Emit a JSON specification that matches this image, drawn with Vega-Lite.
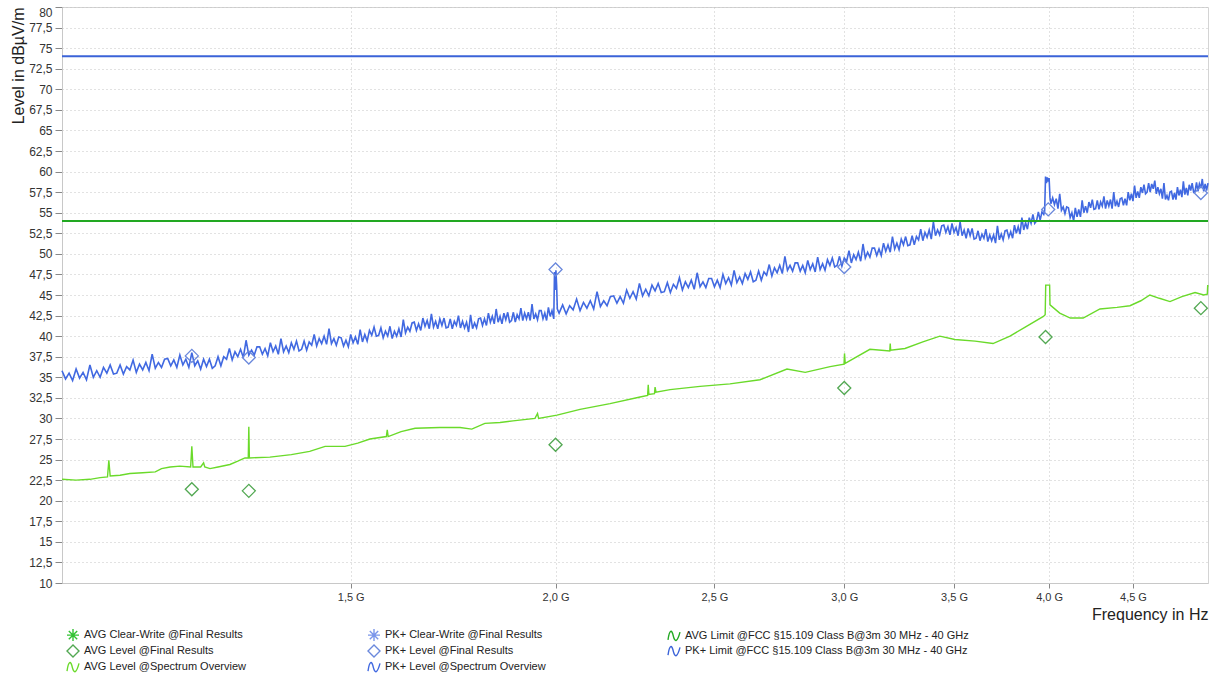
{
  "$schema": "https://vega.github.io/schema/vega-lite/v6.json",
  "width": 1146,
  "height": 576,
  "autosize": "none",
  "padding": {"left": 62, "top": 7, "right": 15, "bottom": 94},
  "background": "white",
  "config": {
    "view": {"stroke": "#d4d4d4"},
    "font": "Liberation Sans",
    "axis": {"labelFont": "Liberation Sans", "titleFont": "Liberation Sans", "titleFontWeight": "normal", "labelColor": "#333", "titleColor": "#222", "gridColor": "#c4c4c4", "gridDash": [1, 3], "domainColor": "#c8c8c8", "tickColor": "#888"}
  },
  "datasets": {
    "pk": [
      {"f":1.000,"v":35.8,"s":"pk"},{"f":1.005,"v":34.8,"s":"pk"},{"f":1.010,"v":35.5,"s":"pk"},{"f":1.015,"v":34.6,"s":"pk"},{"f":1.020,"v":36.0,"s":"pk"},{"f":1.025,"v":34.9,"s":"pk"},{"f":1.030,"v":35.6,"s":"pk"},{"f":1.035,"v":34.7,"s":"pk"},{"f":1.040,"v":36.5,"s":"pk"},{"f":1.045,"v":35.0,"s":"pk"},
      {"f":1.050,"v":35.8,"s":"pk"},{"f":1.055,"v":35.0,"s":"pk"},{"f":1.060,"v":36.2,"s":"pk"},{"f":1.065,"v":35.5,"s":"pk"},{"f":1.070,"v":36.5,"s":"pk"},{"f":1.075,"v":35.4,"s":"pk"},{"f":1.080,"v":35.5,"s":"pk"},{"f":1.085,"v":36.5,"s":"pk"},{"f":1.090,"v":35.4,"s":"pk"},{"f":1.095,"v":36.3,"s":"pk"},
      {"f":1.100,"v":35.9,"s":"pk"},{"f":1.105,"v":37.1,"s":"pk"},{"f":1.110,"v":35.6,"s":"pk"},{"f":1.115,"v":36.6,"s":"pk"},{"f":1.120,"v":35.9,"s":"pk"},{"f":1.125,"v":36.8,"s":"pk"},{"f":1.130,"v":35.8,"s":"pk"},{"f":1.135,"v":37.8,"s":"pk"},{"f":1.140,"v":36.1,"s":"pk"},{"f":1.145,"v":36.8,"s":"pk"},
      {"f":1.150,"v":36.2,"s":"pk"},{"f":1.155,"v":37.2,"s":"pk"},{"f":1.160,"v":37.3,"s":"pk"},{"f":1.165,"v":36.4,"s":"pk"},{"f":1.170,"v":37.1,"s":"pk"},{"f":1.175,"v":36.2,"s":"pk"},{"f":1.180,"v":37.7,"s":"pk"},{"f":1.185,"v":36.5,"s":"pk"},{"f":1.190,"v":37.2,"s":"pk"},{"f":1.195,"v":36.2,"s":"pk"},
      {"f":1.200,"v":38.0,"s":"pk"},{"f":1.205,"v":36.4,"s":"pk"},{"f":1.210,"v":37.0,"s":"pk"},{"f":1.215,"v":36.0,"s":"pk"},{"f":1.220,"v":37.2,"s":"pk"},{"f":1.225,"v":36.3,"s":"pk"},{"f":1.230,"v":37.2,"s":"pk"},{"f":1.235,"v":36.1,"s":"pk"},{"f":1.240,"v":36.4,"s":"pk"},{"f":1.245,"v":37.5,"s":"pk"},
      {"f":1.250,"v":36.4,"s":"pk"},{"f":1.255,"v":37.5,"s":"pk"},{"f":1.260,"v":37.2,"s":"pk"},{"f":1.265,"v":38.5,"s":"pk"},{"f":1.270,"v":37.1,"s":"pk"},{"f":1.275,"v":38.1,"s":"pk"},{"f":1.280,"v":37.5,"s":"pk"},{"f":1.285,"v":38.4,"s":"pk"},{"f":1.290,"v":37.4,"s":"pk"},{"f":1.295,"v":39.5,"s":"pk"},
      {"f":1.300,"v":37.7,"s":"pk"},{"f":1.305,"v":38.3,"s":"pk"},{"f":1.310,"v":37.7,"s":"pk"},{"f":1.315,"v":38.7,"s":"pk"},{"f":1.320,"v":38.7,"s":"pk"},{"f":1.325,"v":37.8,"s":"pk"},{"f":1.330,"v":38.5,"s":"pk"},{"f":1.335,"v":37.6,"s":"pk"},{"f":1.340,"v":39.2,"s":"pk"},{"f":1.345,"v":38.1,"s":"pk"},
      {"f":1.350,"v":38.8,"s":"pk"},{"f":1.355,"v":37.8,"s":"pk"},{"f":1.360,"v":39.7,"s":"pk"},{"f":1.365,"v":38.1,"s":"pk"},{"f":1.370,"v":38.8,"s":"pk"},{"f":1.375,"v":38.0,"s":"pk"},{"f":1.380,"v":39.2,"s":"pk"},{"f":1.385,"v":38.4,"s":"pk"},{"f":1.390,"v":39.4,"s":"pk"},{"f":1.395,"v":38.2,"s":"pk"},
      {"f":1.400,"v":38.4,"s":"pk"},{"f":1.405,"v":39.4,"s":"pk"},{"f":1.410,"v":38.3,"s":"pk"},{"f":1.415,"v":39.3,"s":"pk"},{"f":1.420,"v":38.9,"s":"pk"},{"f":1.425,"v":40.2,"s":"pk"},{"f":1.430,"v":38.8,"s":"pk"},{"f":1.435,"v":39.7,"s":"pk"},{"f":1.440,"v":39.1,"s":"pk"},{"f":1.445,"v":40.0,"s":"pk"},
      {"f":1.450,"v":39.0,"s":"pk"},{"f":1.455,"v":40.9,"s":"pk"},{"f":1.460,"v":39.1,"s":"pk"},{"f":1.465,"v":39.7,"s":"pk"},{"f":1.470,"v":38.9,"s":"pk"},{"f":1.475,"v":39.9,"s":"pk"},{"f":1.480,"v":39.8,"s":"pk"},{"f":1.485,"v":38.8,"s":"pk"},{"f":1.490,"v":39.5,"s":"pk"},{"f":1.495,"v":38.7,"s":"pk"},
      {"f":1.500,"v":40.2,"s":"pk"},{"f":1.505,"v":39.2,"s":"pk"},{"f":1.510,"v":39.9,"s":"pk"},{"f":1.515,"v":39.0,"s":"pk"},{"f":1.520,"v":40.8,"s":"pk"},{"f":1.525,"v":39.3,"s":"pk"},{"f":1.530,"v":40.2,"s":"pk"},{"f":1.535,"v":39.4,"s":"pk"},{"f":1.540,"v":40.7,"s":"pk"},{"f":1.545,"v":40.1,"s":"pk"},
      {"f":1.550,"v":41.1,"s":"pk"},{"f":1.555,"v":40.0,"s":"pk"},{"f":1.560,"v":40.1,"s":"pk"},{"f":1.565,"v":41.0,"s":"pk"},{"f":1.570,"v":39.8,"s":"pk"},{"f":1.575,"v":40.6,"s":"pk"},{"f":1.580,"v":40.0,"s":"pk"},{"f":1.585,"v":41.2,"s":"pk"},{"f":1.590,"v":39.7,"s":"pk"},{"f":1.595,"v":40.6,"s":"pk"},
      {"f":1.600,"v":40.0,"s":"pk"},{"f":1.605,"v":40.9,"s":"pk"},{"f":1.610,"v":39.9,"s":"pk"},{"f":1.615,"v":42.0,"s":"pk"},{"f":1.620,"v":40.4,"s":"pk"},{"f":1.625,"v":41.1,"s":"pk"},{"f":1.630,"v":40.6,"s":"pk"},{"f":1.635,"v":41.6,"s":"pk"},{"f":1.640,"v":41.7,"s":"pk"},{"f":1.645,"v":40.7,"s":"pk"},
      {"f":1.650,"v":41.5,"s":"pk"},{"f":1.655,"v":40.7,"s":"pk"},{"f":1.660,"v":42.2,"s":"pk"},{"f":1.665,"v":41.2,"s":"pk"},{"f":1.670,"v":41.9,"s":"pk"},{"f":1.675,"v":40.9,"s":"pk"},{"f":1.680,"v":42.7,"s":"pk"},{"f":1.685,"v":41.1,"s":"pk"},{"f":1.690,"v":41.8,"s":"pk"},{"f":1.695,"v":40.9,"s":"pk"},
      {"f":1.700,"v":42.1,"s":"pk"},{"f":1.705,"v":41.3,"s":"pk"},{"f":1.710,"v":42.2,"s":"pk"},{"f":1.715,"v":41.0,"s":"pk"},{"f":1.720,"v":41.1,"s":"pk"},{"f":1.725,"v":42.1,"s":"pk"},{"f":1.730,"v":40.9,"s":"pk"},{"f":1.735,"v":41.8,"s":"pk"},{"f":1.740,"v":41.3,"s":"pk"},{"f":1.745,"v":42.5,"s":"pk"},
      {"f":1.750,"v":41.0,"s":"pk"},{"f":1.755,"v":41.8,"s":"pk"},{"f":1.760,"v":41.0,"s":"pk"},{"f":1.765,"v":41.7,"s":"pk"},{"f":1.770,"v":40.5,"s":"pk"},{"f":1.775,"v":42.6,"s":"pk"},{"f":1.780,"v":40.9,"s":"pk"},{"f":1.785,"v":41.6,"s":"pk"},{"f":1.790,"v":41.0,"s":"pk"},{"f":1.795,"v":42.1,"s":"pk"},
      {"f":1.800,"v":42.2,"s":"pk"},{"f":1.805,"v":41.3,"s":"pk"},{"f":1.810,"v":42.1,"s":"pk"},{"f":1.815,"v":41.3,"s":"pk"},{"f":1.820,"v":42.8,"s":"pk"},{"f":1.825,"v":41.7,"s":"pk"},{"f":1.830,"v":42.4,"s":"pk"},{"f":1.835,"v":41.5,"s":"pk"},{"f":1.840,"v":43.3,"s":"pk"},{"f":1.845,"v":41.7,"s":"pk"},
      {"f":1.850,"v":42.4,"s":"pk"},{"f":1.855,"v":41.5,"s":"pk"},{"f":1.860,"v":42.8,"s":"pk"},{"f":1.865,"v":42.0,"s":"pk"},{"f":1.870,"v":42.9,"s":"pk"},{"f":1.875,"v":41.7,"s":"pk"},{"f":1.880,"v":41.9,"s":"pk"},{"f":1.885,"v":42.9,"s":"pk"},{"f":1.890,"v":41.7,"s":"pk"},{"f":1.895,"v":42.6,"s":"pk"},
      {"f":1.900,"v":42.1,"s":"pk"},{"f":1.905,"v":43.4,"s":"pk"},{"f":1.910,"v":41.9,"s":"pk"},{"f":1.915,"v":42.8,"s":"pk"},{"f":1.920,"v":42.1,"s":"pk"},{"f":1.925,"v":42.9,"s":"pk"},{"f":1.930,"v":41.9,"s":"pk"},{"f":1.935,"v":43.9,"s":"pk"},{"f":1.940,"v":42.1,"s":"pk"},{"f":1.945,"v":42.7,"s":"pk"},
      {"f":1.950,"v":42.0,"s":"pk"},{"f":1.955,"v":43.1,"s":"pk"},{"f":1.960,"v":43.1,"s":"pk"},{"f":1.965,"v":42.1,"s":"pk"},{"f":1.970,"v":42.8,"s":"pk"},{"f":1.975,"v":41.9,"s":"pk"},{"f":1.980,"v":43.5,"s":"pk"},{"f":1.985,"v":42.4,"s":"pk"},{"f":1.990,"v":43.1,"s":"pk"},{"f":1.995,"v":42.1,"s":"pk"},
      {"f":1.997,"v":47.8,"s":"pk"},{"f":1.999,"v":45.6,"s":"pk"},{"f":2.001,"v":48.0,"s":"pk"},{"f":2.003,"v":46.2,"s":"pk"},{"f":2.005,"v":43.3,"s":"pk"},
      {"f":2.01,"v":42.8,"s":"pk"},{"f":2.02,"v":43.8,"s":"pk"},{"f":2.03,"v":42.7,"s":"pk"},{"f":2.04,"v":43.7,"s":"pk"},{"f":2.05,"v":43.2,"s":"pk"},{"f":2.06,"v":44.5,"s":"pk"},{"f":2.07,"v":43.1,"s":"pk"},{"f":2.08,"v":44.1,"s":"pk"},{"f":2.09,"v":43.4,"s":"pk"},{"f":2.10,"v":44.3,"s":"pk"},
      {"f":2.11,"v":43.3,"s":"pk"},{"f":2.12,"v":45.4,"s":"pk"},{"f":2.13,"v":43.6,"s":"pk"},{"f":2.14,"v":44.3,"s":"pk"},{"f":2.15,"v":43.7,"s":"pk"},{"f":2.16,"v":44.8,"s":"pk"},{"f":2.17,"v":44.9,"s":"pk"},{"f":2.18,"v":44.0,"s":"pk"},{"f":2.19,"v":44.8,"s":"pk"},{"f":2.20,"v":44.0,"s":"pk"},
      {"f":2.21,"v":45.6,"s":"pk"},{"f":2.22,"v":44.6,"s":"pk"},{"f":2.23,"v":45.4,"s":"pk"},{"f":2.24,"v":44.5,"s":"pk"},{"f":2.25,"v":46.4,"s":"pk"},{"f":2.26,"v":44.9,"s":"pk"},{"f":2.27,"v":45.7,"s":"pk"},{"f":2.28,"v":44.9,"s":"pk"},{"f":2.29,"v":46.2,"s":"pk"},{"f":2.30,"v":45.5,"s":"pk"},
      {"f":2.31,"v":46.4,"s":"pk"},{"f":2.32,"v":45.3,"s":"pk"},{"f":2.33,"v":45.4,"s":"pk"},{"f":2.34,"v":46.5,"s":"pk"},{"f":2.35,"v":45.3,"s":"pk"},{"f":2.36,"v":46.3,"s":"pk"},{"f":2.37,"v":45.8,"s":"pk"},{"f":2.38,"v":47.1,"s":"pk"},{"f":2.39,"v":45.6,"s":"pk"},{"f":2.40,"v":46.6,"s":"pk"},
      {"f":2.41,"v":45.9,"s":"pk"},{"f":2.42,"v":46.8,"s":"pk"},{"f":2.43,"v":45.7,"s":"pk"},{"f":2.44,"v":47.7,"s":"pk"},{"f":2.45,"v":46.0,"s":"pk"},{"f":2.46,"v":46.6,"s":"pk"},{"f":2.47,"v":45.9,"s":"pk"},{"f":2.48,"v":47.0,"s":"pk"},{"f":2.49,"v":47.0,"s":"pk"},{"f":2.50,"v":46.0,"s":"pk"},
      {"f":2.51,"v":46.8,"s":"pk"},{"f":2.52,"v":45.9,"s":"pk"},{"f":2.53,"v":47.5,"s":"pk"},{"f":2.54,"v":46.4,"s":"pk"},{"f":2.55,"v":47.1,"s":"pk"},{"f":2.56,"v":46.2,"s":"pk"},{"f":2.57,"v":48.0,"s":"pk"},{"f":2.58,"v":46.5,"s":"pk"},{"f":2.59,"v":47.2,"s":"pk"},{"f":2.60,"v":46.4,"s":"pk"},
      {"f":2.61,"v":47.6,"s":"pk"},{"f":2.62,"v":46.9,"s":"pk"},{"f":2.63,"v":47.8,"s":"pk"},{"f":2.64,"v":46.6,"s":"pk"},{"f":2.65,"v":46.8,"s":"pk"},{"f":2.66,"v":47.9,"s":"pk"},{"f":2.67,"v":46.8,"s":"pk"},{"f":2.68,"v":47.8,"s":"pk"},{"f":2.69,"v":47.4,"s":"pk"},{"f":2.70,"v":48.7,"s":"pk"},
      {"f":2.71,"v":47.3,"s":"pk"},{"f":2.72,"v":48.3,"s":"pk"},{"f":2.73,"v":47.7,"s":"pk"},{"f":2.74,"v":48.6,"s":"pk"},{"f":2.75,"v":47.6,"s":"pk"},{"f":2.76,"v":49.7,"s":"pk"},{"f":2.77,"v":48.0,"s":"pk"},{"f":2.78,"v":48.6,"s":"pk"},{"f":2.79,"v":47.9,"s":"pk"},{"f":2.80,"v":48.9,"s":"pk"},
      {"f":2.81,"v":48.9,"s":"pk"},{"f":2.82,"v":47.9,"s":"pk"},{"f":2.83,"v":48.6,"s":"pk"},{"f":2.84,"v":47.7,"s":"pk"},{"f":2.85,"v":49.2,"s":"pk"},{"f":2.86,"v":48.1,"s":"pk"},{"f":2.87,"v":48.8,"s":"pk"},{"f":2.88,"v":47.8,"s":"pk"},{"f":2.89,"v":49.6,"s":"pk"},{"f":2.90,"v":48.1,"s":"pk"},
      {"f":2.91,"v":48.8,"s":"pk"},{"f":2.92,"v":48.0,"s":"pk"},{"f":2.93,"v":49.3,"s":"pk"},{"f":2.94,"v":48.6,"s":"pk"},{"f":2.95,"v":49.5,"s":"pk"},{"f":2.96,"v":48.4,"s":"pk"},{"f":2.97,"v":48.6,"s":"pk"},{"f":2.98,"v":49.7,"s":"pk"},{"f":2.99,"v":48.5,"s":"pk"},{"f":3.00,"v":49.5,"s":"pk"},
      {"f":3.01,"v":49.1,"s":"pk"},{"f":3.02,"v":50.4,"s":"pk"},{"f":3.03,"v":48.9,"s":"pk"},{"f":3.04,"v":49.9,"s":"pk"},{"f":3.05,"v":49.3,"s":"pk"},{"f":3.06,"v":50.2,"s":"pk"},{"f":3.07,"v":49.1,"s":"pk"},{"f":3.08,"v":51.2,"s":"pk"},{"f":3.09,"v":49.5,"s":"pk"},{"f":3.10,"v":50.2,"s":"pk"},
      {"f":3.11,"v":49.6,"s":"pk"},{"f":3.12,"v":50.7,"s":"pk"},{"f":3.13,"v":50.7,"s":"pk"},{"f":3.14,"v":49.8,"s":"pk"},{"f":3.15,"v":50.6,"s":"pk"},{"f":3.16,"v":49.8,"s":"pk"},{"f":3.17,"v":51.3,"s":"pk"},{"f":3.18,"v":50.3,"s":"pk"},{"f":3.19,"v":51.1,"s":"pk"},{"f":3.20,"v":50.2,"s":"pk"},
      {"f":3.21,"v":52.1,"s":"pk"},{"f":3.22,"v":50.6,"s":"pk"},{"f":3.23,"v":51.3,"s":"pk"},{"f":3.24,"v":50.5,"s":"pk"},{"f":3.25,"v":51.8,"s":"pk"},{"f":3.26,"v":51.1,"s":"pk"},{"f":3.27,"v":52.1,"s":"pk"},{"f":3.28,"v":51.0,"s":"pk"},{"f":3.29,"v":51.1,"s":"pk"},{"f":3.30,"v":52.2,"s":"pk"},
      {"f":3.31,"v":51.1,"s":"pk"},{"f":3.32,"v":52.1,"s":"pk"},{"f":3.33,"v":51.7,"s":"pk"},{"f":3.34,"v":53.0,"s":"pk"},{"f":3.35,"v":51.6,"s":"pk"},{"f":3.36,"v":52.6,"s":"pk"},{"f":3.37,"v":52.0,"s":"pk"},{"f":3.38,"v":52.9,"s":"pk"},{"f":3.39,"v":51.8,"s":"pk"},{"f":3.40,"v":53.9,"s":"pk"},
      {"f":3.41,"v":52.2,"s":"pk"},{"f":3.42,"v":52.9,"s":"pk"},{"f":3.43,"v":52.3,"s":"pk"},{"f":3.44,"v":53.4,"s":"pk"},{"f":3.45,"v":53.5,"s":"pk"},{"f":3.46,"v":52.6,"s":"pk"},{"f":3.47,"v":53.3,"s":"pk"},{"f":3.48,"v":52.3,"s":"pk"},{"f":3.49,"v":53.7,"s":"pk"},{"f":3.50,"v":52.6,"s":"pk"},
      {"f":3.51,"v":53.2,"s":"pk"},{"f":3.52,"v":52.2,"s":"pk"},{"f":3.53,"v":53.9,"s":"pk"},{"f":3.54,"v":52.2,"s":"pk"},{"f":3.55,"v":52.9,"s":"pk"},{"f":3.56,"v":51.9,"s":"pk"},{"f":3.57,"v":53.1,"s":"pk"},{"f":3.58,"v":52.2,"s":"pk"},{"f":3.59,"v":53.1,"s":"pk"},{"f":3.60,"v":51.8,"s":"pk"},
      {"f":3.61,"v":51.9,"s":"pk"},{"f":3.62,"v":52.8,"s":"pk"},{"f":3.63,"v":51.6,"s":"pk"},{"f":3.64,"v":52.4,"s":"pk"},{"f":3.65,"v":51.9,"s":"pk"},{"f":3.66,"v":53.0,"s":"pk"},{"f":3.67,"v":51.5,"s":"pk"},{"f":3.68,"v":52.3,"s":"pk"},{"f":3.69,"v":51.6,"s":"pk"},{"f":3.70,"v":52.3,"s":"pk"},
      {"f":3.71,"v":51.3,"s":"pk"},{"f":3.72,"v":53.4,"s":"pk"},{"f":3.73,"v":51.7,"s":"pk"},{"f":3.74,"v":52.4,"s":"pk"},{"f":3.75,"v":51.7,"s":"pk"},{"f":3.76,"v":52.8,"s":"pk"},{"f":3.77,"v":52.9,"s":"pk"},{"f":3.78,"v":52.0,"s":"pk"},{"f":3.79,"v":52.7,"s":"pk"},{"f":3.80,"v":51.9,"s":"pk"},
      {"f":3.81,"v":53.5,"s":"pk"},{"f":3.82,"v":52.5,"s":"pk"},{"f":3.83,"v":53.3,"s":"pk"},{"f":3.84,"v":52.4,"s":"pk"},{"f":3.85,"v":54.4,"s":"pk"},{"f":3.86,"v":52.9,"s":"pk"},{"f":3.87,"v":53.8,"s":"pk"},{"f":3.88,"v":53.0,"s":"pk"},{"f":3.89,"v":54.4,"s":"pk"},{"f":3.90,"v":53.7,"s":"pk"},
      {"f":3.91,"v":54.8,"s":"pk"},{"f":3.92,"v":53.7,"s":"pk"},{"f":3.93,"v":54.0,"s":"pk"},{"f":3.94,"v":55.1,"s":"pk"},{"f":3.95,"v":54.1,"s":"pk"},{"f":3.96,"v":55.1,"s":"pk"},{"f":3.97,"v":54.8,"s":"pk"},{"f":3.975,"v":55.2,"s":"pk"},
      {"f":3.98,"v":59.4,"s":"pk"},{"f":3.985,"v":58.6,"s":"pk"},{"f":3.99,"v":59.3,"s":"pk"},{"f":3.995,"v":58.8,"s":"pk"},{"f":4.00,"v":59.2,"s":"pk"},{"f":4.005,"v":56.8,"s":"pk"},
      {"f":4.01,"v":56.1,"s":"pk"},{"f":4.02,"v":56.8,"s":"pk"},{"f":4.03,"v":56.0,"s":"pk"},{"f":4.04,"v":56.7,"s":"pk"},{"f":4.05,"v":55.5,"s":"pk"},{"f":4.06,"v":57.3,"s":"pk"},{"f":4.07,"v":55.3,"s":"pk"},{"f":4.08,"v":55.7,"s":"pk"},{"f":4.09,"v":54.9,"s":"pk"},{"f":4.10,"v":55.7,"s":"pk"},
      {"f":4.11,"v":55.6,"s":"pk"},{"f":4.12,"v":54.4,"s":"pk"},{"f":4.13,"v":55.0,"s":"pk"},{"f":4.14,"v":54.0,"s":"pk"},{"f":4.15,"v":55.6,"s":"pk"},{"f":4.16,"v":54.5,"s":"pk"},{"f":4.17,"v":55.4,"s":"pk"},{"f":4.18,"v":54.5,"s":"pk"},{"f":4.19,"v":56.5,"s":"pk"},{"f":4.20,"v":55.0,"s":"pk"},
      {"f":4.21,"v":55.8,"s":"pk"},{"f":4.22,"v":55.0,"s":"pk"},{"f":4.23,"v":56.3,"s":"pk"},{"f":4.24,"v":55.6,"s":"pk"},{"f":4.25,"v":56.6,"s":"pk"},{"f":4.26,"v":55.4,"s":"pk"},{"f":4.27,"v":55.5,"s":"pk"},{"f":4.28,"v":56.5,"s":"pk"},{"f":4.29,"v":55.4,"s":"pk"},{"f":4.30,"v":56.3,"s":"pk"},
      {"f":4.31,"v":55.8,"s":"pk"},{"f":4.32,"v":57.0,"s":"pk"},{"f":4.33,"v":55.5,"s":"pk"},{"f":4.34,"v":56.5,"s":"pk"},{"f":4.35,"v":55.8,"s":"pk"},{"f":4.36,"v":56.6,"s":"pk"},{"f":4.37,"v":55.5,"s":"pk"},{"f":4.38,"v":57.5,"s":"pk"},{"f":4.39,"v":55.8,"s":"pk"},{"f":4.40,"v":56.4,"s":"pk"},
      {"f":4.41,"v":55.7,"s":"pk"},{"f":4.42,"v":56.7,"s":"pk"},{"f":4.43,"v":56.8,"s":"pk"},{"f":4.44,"v":55.9,"s":"pk"},{"f":4.45,"v":56.7,"s":"pk"},{"f":4.46,"v":55.9,"s":"pk"},{"f":4.47,"v":57.5,"s":"pk"},{"f":4.48,"v":56.5,"s":"pk"},{"f":4.49,"v":57.3,"s":"pk"},{"f":4.50,"v":56.4,"s":"pk"},
      {"f":4.51,"v":58.3,"s":"pk"},{"f":4.52,"v":56.8,"s":"pk"},{"f":4.53,"v":57.6,"s":"pk"},{"f":4.54,"v":56.8,"s":"pk"},{"f":4.55,"v":58.1,"s":"pk"},{"f":4.56,"v":57.4,"s":"pk"},{"f":4.57,"v":58.4,"s":"pk"},{"f":4.58,"v":57.3,"s":"pk"},{"f":4.59,"v":57.5,"s":"pk"},{"f":4.60,"v":58.6,"s":"pk"},
      {"f":4.61,"v":57.5,"s":"pk"},{"f":4.62,"v":58.5,"s":"pk"},{"f":4.63,"v":57.9,"s":"pk"},{"f":4.64,"v":58.9,"s":"pk"},{"f":4.65,"v":57.3,"s":"pk"},{"f":4.66,"v":58.1,"s":"pk"},{"f":4.67,"v":57.3,"s":"pk"},{"f":4.68,"v":57.9,"s":"pk"},{"f":4.69,"v":56.7,"s":"pk"},{"f":4.70,"v":58.6,"s":"pk"},
      {"f":4.71,"v":56.6,"s":"pk"},{"f":4.72,"v":57.1,"s":"pk"},{"f":4.73,"v":56.5,"s":"pk"},{"f":4.74,"v":57.5,"s":"pk"},{"f":4.75,"v":57.6,"s":"pk"},{"f":4.76,"v":56.6,"s":"pk"},{"f":4.77,"v":57.4,"s":"pk"},{"f":4.78,"v":56.6,"s":"pk"},{"f":4.79,"v":58.1,"s":"pk"},{"f":4.80,"v":57.1,"s":"pk"},
      {"f":4.81,"v":57.8,"s":"pk"},{"f":4.82,"v":56.9,"s":"pk"},{"f":4.83,"v":58.8,"s":"pk"},{"f":4.84,"v":57.2,"s":"pk"},{"f":4.85,"v":58.0,"s":"pk"},{"f":4.86,"v":57.1,"s":"pk"},{"f":4.87,"v":58.4,"s":"pk"},{"f":4.88,"v":57.7,"s":"pk"},{"f":4.89,"v":58.6,"s":"pk"},{"f":4.90,"v":57.5,"s":"pk"},
      {"f":4.91,"v":57.6,"s":"pk"},{"f":4.92,"v":58.7,"s":"pk"},{"f":4.93,"v":57.6,"s":"pk"},{"f":4.94,"v":58.5,"s":"pk"},{"f":4.95,"v":58.0,"s":"pk"},{"f":4.96,"v":59.1,"s":"pk"},{"f":4.97,"v":57.6,"s":"pk"},{"f":4.98,"v":58.5,"s":"pk"},{"f":4.99,"v":57.7,"s":"pk"},{"f":5.00,"v":58.6,"s":"pk"}
    ],
    "avg": [
      {"f":1.000,"v":22.6,"s":"avg"},{"f":1.02,"v":22.5,"s":"avg"},{"f":1.04,"v":22.6,"s":"avg"},{"f":1.055,"v":22.8,"s":"avg"},{"f":1.066,"v":22.9,"s":"avg"},{"f":1.068,"v":24.9,"s":"avg"},{"f":1.070,"v":23.0,"s":"avg"},{"f":1.085,"v":23.1,"s":"avg"},{"f":1.10,"v":23.3,"s":"avg"},{"f":1.12,"v":23.4,"s":"avg"},
      {"f":1.14,"v":23.5,"s":"avg"},{"f":1.150,"v":23.9,"s":"avg"},{"f":1.164,"v":24.1,"s":"avg"},{"f":1.18,"v":24.2,"s":"avg"},{"f":1.198,"v":24.1,"s":"avg"},{"f":1.200,"v":26.6,"s":"avg"},{"f":1.202,"v":24.1,"s":"avg"},{"f":1.215,"v":24.1,"s":"avg"},{"f":1.220,"v":24.6,"s":"avg"},{"f":1.222,"v":24.1,"s":"avg"},
      {"f":1.231,"v":23.9,"s":"avg"},{"f":1.245,"v":24.1,"s":"avg"},{"f":1.266,"v":24.4,"s":"avg"},{"f":1.280,"v":24.8,"s":"avg"},{"f":1.293,"v":25.2,"s":"avg"},{"f":1.299,"v":25.2,"s":"avg"},{"f":1.300,"v":29.0,"s":"avg"},{"f":1.301,"v":25.2,"s":"avg"},{"f":1.339,"v":25.3,"s":"avg"},{"f":1.38,"v":25.6,"s":"avg"},
      {"f":1.416,"v":26.0,"s":"avg"},{"f":1.447,"v":26.6,"s":"avg"},{"f":1.488,"v":26.6,"s":"avg"},{"f":1.515,"v":27.0,"s":"avg"},{"f":1.541,"v":27.5,"s":"avg"},{"f":1.577,"v":27.8,"s":"avg"},{"f":1.579,"v":28.6,"s":"avg"},{"f":1.581,"v":27.8,"s":"avg"},{"f":1.61,"v":28.4,"s":"avg"},{"f":1.642,"v":28.8,"s":"avg"},
      {"f":1.70,"v":28.9,"s":"avg"},{"f":1.749,"v":28.9,"s":"avg"},{"f":1.778,"v":28.7,"s":"avg"},{"f":1.811,"v":29.4,"s":"avg"},{"f":1.850,"v":29.5,"s":"avg"},{"f":1.884,"v":29.7,"s":"avg"},{"f":1.943,"v":30.0,"s":"avg"},{"f":1.950,"v":30.6,"s":"avg"},{"f":1.953,"v":30.0,"s":"avg"},{"f":2.004,"v":30.4,"s":"avg"},
      {"f":2.070,"v":31.1,"s":"avg"},{"f":2.159,"v":31.8,"s":"avg"},{"f":2.252,"v":32.6,"s":"avg"},{"f":2.276,"v":32.8,"s":"avg"},{"f":2.278,"v":34.1,"s":"avg"},{"f":2.280,"v":32.9,"s":"avg"},{"f":2.298,"v":33.0,"s":"avg"},{"f":2.300,"v":33.8,"s":"avg"},{"f":2.303,"v":33.2,"s":"avg"},{"f":2.349,"v":33.5,"s":"avg"},
      {"f":2.450,"v":33.9,"s":"avg"},{"f":2.555,"v":34.2,"s":"avg"},{"f":2.665,"v":34.7,"s":"avg"},{"f":2.768,"v":36.0,"s":"avg"},{"f":2.840,"v":35.6,"s":"avg"},{"f":2.941,"v":36.3,"s":"avg"},{"f":2.999,"v":36.6,"s":"avg"},{"f":3.001,"v":37.9,"s":"avg"},{"f":3.004,"v":36.7,"s":"avg"},{"f":3.110,"v":38.4,"s":"avg"},
      {"f":3.198,"v":38.2,"s":"avg"},{"f":3.200,"v":39.1,"s":"avg"},{"f":3.202,"v":38.3,"s":"avg"},{"f":3.267,"v":38.5,"s":"avg"},{"f":3.35,"v":39.3,"s":"avg"},{"f":3.431,"v":40.0,"s":"avg"},{"f":3.504,"v":39.6,"s":"avg"},{"f":3.605,"v":39.4,"s":"avg"},{"f":3.697,"v":39.1,"s":"avg"},{"f":3.786,"v":40.0,"s":"avg"},
      {"f":3.868,"v":41.1,"s":"avg"},{"f":3.968,"v":42.4,"s":"avg"},{"f":3.978,"v":42.6,"s":"avg"},{"f":3.981,"v":46.2,"s":"avg"},{"f":4.003,"v":46.2,"s":"avg"},{"f":4.005,"v":43.8,"s":"avg"},{"f":4.06,"v":42.8,"s":"avg"},{"f":4.121,"v":42.2,"s":"avg"},{"f":4.196,"v":42.2,"s":"avg"},{"f":4.296,"v":43.3,"s":"avg"},
      {"f":4.40,"v":43.5,"s":"avg"},{"f":4.481,"v":43.7,"s":"avg"},{"f":4.55,"v":44.3,"s":"avg"},{"f":4.608,"v":45.0,"s":"avg"},{"f":4.67,"v":44.6,"s":"avg"},{"f":4.740,"v":44.2,"s":"avg"},{"f":4.82,"v":44.8,"s":"avg"},{"f":4.910,"v":45.3,"s":"avg"},{"f":4.97,"v":45.0,"s":"avg"},{"f":4.995,"v":45.1,"s":"avg"},
      {"f":4.998,"v":46.2,"s":"avg"},{"f":5.000,"v":46.0,"s":"avg"}
    ],
    "limits": [
      {"f":1.0,"v":74,"s":"pkLim"},{"f":5.0,"v":74,"s":"pkLim"},
      {"f":1.0,"v":54,"s":"avgLim"},{"f":5.0,"v":54,"s":"avgLim"}
    ],
    "finals": [
      {"f":1.20,"v":21.4,"s":"avgFR"},{"f":1.30,"v":21.2,"s":"avgFR"},{"f":2.0,"v":26.8,"s":"avgFR"},{"f":3.0,"v":33.7,"s":"avgFR"},{"f":3.98,"v":39.9,"s":"avgFR"},{"f":4.95,"v":43.4,"s":"avgFR"},
      {"f":1.20,"v":37.6,"s":"pkFR"},{"f":1.30,"v":37.4,"s":"pkFR"},{"f":2.0,"v":48.1,"s":"pkFR"},{"f":3.0,"v":48.4,"s":"pkFR"},{"f":3.995,"v":55.4,"s":"pkFR"},{"f":4.95,"v":57.4,"s":"pkFR"}
    ]
  },
  "encoding": {
    "x": {
      "field": "f", "type": "quantitative",
      "scale": {"type": "log", "domain": [1, 5], "nice": false},
      "axis": {
        "title": "Frequency in Hz", "titleFontSize": 16, "titleAnchor": "end", "titleY": 31, "titleBaseline": "middle",
        "values": [1.5, 2, 2.5, 3, 3.5, 4, 4.5],
        "labelExpr": "replace(format(datum.value, '.1f'), '.', ',') + ' G'",
        "labelFontSize": 11, "tickSize": 5, "labelPadding": 3, "grid": true
      }
    },
    "y": {
      "field": "v", "type": "quantitative",
      "scale": {"domain": [10, 80], "nice": false, "zero": false},
      "axis": {
        "title": "Level in dBµV/m", "titleFontSize": 16, "titleAnchor": "end", "titleX": -44, "titleBaseline": "middle",
        "values": [10,12.5,15,17.5,20,22.5,25,27.5,30,32.5,35,37.5,40,42.5,45,47.5,50,52.5,55,57.5,60,62.5,65,67.5,70,72.5,75,77.5,80],
        "labelExpr": "datum.value % 1 == 0 ? format(datum.value, 'd') : replace(format(datum.value, '.1f'), '.', ',')",
        "labelBaseline": {"condition": {"test": "datum.value == 80", "value": "top"}, "value": "middle"},
        "labelFontSize": 12, "tickSize": 7, "labelPadding": 3, "grid": true
      }
    },
    "color": {
      "field": "s", "type": "nominal",
      "scale": {
        "domain": ["avgCW", "pkCW", "avgLim", "avgFR", "pkFR", "pkLim", "avg", "pk"],
        "range": ["#33c233", "#7b96ea", "#22a822", "#52a852", "#6a88dc", "#3b63d8", "#6ada2a", "#4169e1"]
      },
      "legend": {
        "orient": "none", "legendX": 4, "legendY": 621, "direction": "horizontal", "columns": 3, "columnPadding": 119, "rowPadding": -3,
        "title": null, "labelFont": "Liberation Sans", "labelFontSize": 11, "labelColor": "#222", "labelOffset": 4, "labelLimit": 400,
        "symbolSize": 144, "symbolStrokeWidth": 1.4,
        "labelExpr": "{'avgCW':'AVG Clear-Write @Final Results','pkCW':'PK+ Clear-Write @Final Results','avgLim':'AVG Limit @FCC §15.109 Class B@3m 30 MHz - 40 GHz','avgFR':'AVG Level @Final Results','pkFR':'PK+ Level @Final Results','pkLim':'PK+ Limit @FCC §15.109 Class B@3m 30 MHz - 40 GHz','avg':'AVG Level @Spectrum Overview','pk':'PK+ Level @Spectrum Overview'}[datum.value]",
        "encode": {"symbols": {"update": {"shape": {"scale": "shape", "field": "value"}, "fill": {"value": "transparent"}, "stroke": {"scale": "color", "field": "value"}, "strokeWidth": {"value": 1.4}, "opacity": {"value": 1}}}}
      }
    }
  },
  "layer": [
    {"data": {"name": "pk"}, "mark": {"type": "line", "strokeWidth": 1.6}},
    {"data": {"name": "avg"}, "mark": {"type": "line", "strokeWidth": 1.4}},
    {"data": {"name": "limits"}, "mark": {"type": "line", "strokeWidth": 2}},
    {
      "data": {"name": "finals"},
      "mark": {"type": "point", "filled": false, "size": 170, "strokeWidth": 1.3, "opacity": 1},
      "encoding": {
        "shape": {
          "field": "s", "type": "nominal",
          "scale": {
            "domain": ["avgCW", "pkCW", "avgLim", "avgFR", "pkFR", "pkLim", "avg", "pk"],
            "range": [
              "M-1,0L1,0M0,-1L0,1M-0.7,-0.7L0.7,0.7M-0.7,0.7L0.7,-0.7",
              "M-1,0L1,0M0,-1L0,1M-0.7,-0.7L0.7,0.7M-0.7,0.7L0.7,-0.7",
              "M-1,0.7C-0.75,-1.1,-0.35,-1.1,-0.1,0.1C0.15,1.1,0.55,1.1,1,-0.6",
              "diamond",
              "diamond",
              "M-1,0.7C-0.75,-1.1,-0.35,-1.1,-0.1,0.1C0.15,1.1,0.55,1.1,1,-0.6",
              "M-1,0.7C-0.75,-1.1,-0.35,-1.1,-0.1,0.1C0.15,1.1,0.55,1.1,1,-0.6",
              "M-1,0.7C-0.75,-1.1,-0.35,-1.1,-0.1,0.1C0.15,1.1,0.55,1.1,1,-0.6"
            ]
          },
          "legend": null
        }
      }
    }
  ]
}
